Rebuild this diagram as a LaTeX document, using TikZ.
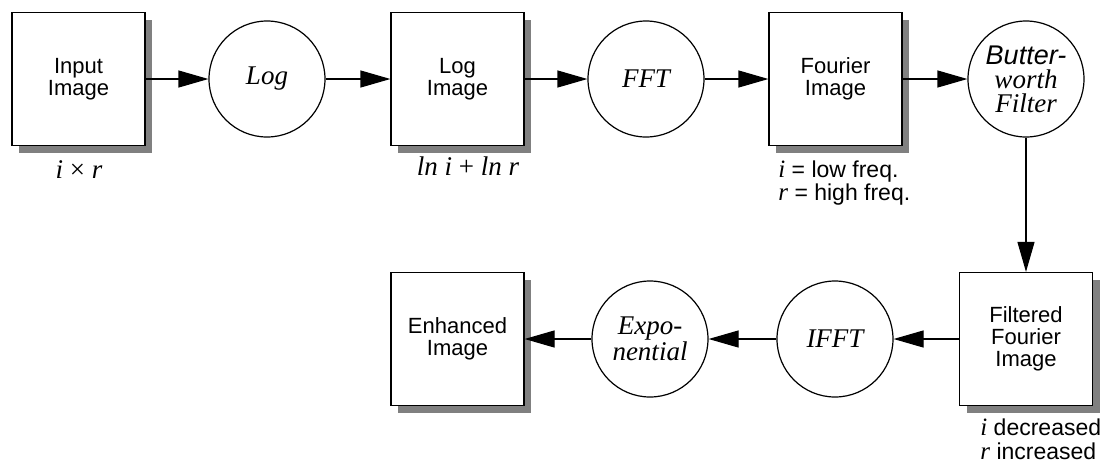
\documentclass[tikz,border=0pt]{standalone}
\usepackage{fontspec}
\setmainfont{Liberation Serif}
\setsansfont{Liberation Sans}
\usetikzlibrary{arrows.meta,shadows}

\newcommand{\itvar}[1]{{\rmfamily\itshape\fontsize{12.5}{10}\selectfont #1}}

\tikzset{
  imgbox/.style={draw, line width=0.6pt, fill=white, minimum size=66.5pt, inner sep=0pt,
    align=center, font=\sffamily\fontsize{11}{11}\selectfont,
    drop shadow={shadow xshift=3.5pt, shadow yshift=-3.5pt, fill=black!50, opacity=1}},
  opcircle/.style={draw, circle, line width=0.6pt, fill=white, minimum size=58pt, inner sep=0pt,
    align=center, font=\itshape\fontsize{13.5}{12}\selectfont},
  flow/.style={line width=0.6pt, -{Triangle[length=15pt,width=8.5pt]}},
  note/.style={inner sep=0pt, align=left, font=\sffamily\fontsize{11.5}{11.8}\selectfont},
  mathnote/.style={inner sep=0pt, font=\rmfamily\itshape\fontsize{13.5}{12}\selectfont}
}

\begin{document}
\begin{tikzpicture}[x=0.5pt,y=-0.5pt]
    \useasboundingbox (0,0) rectangle (1105,462);
    % top row
    \node[imgbox] (input) at (78.5,79) {Input\\Image};
    \node[opcircle] (log) at (267,79) {Log};
    \node[imgbox] (logimg) at (457.5,79) {Log\\Image};
    \node[opcircle] (fft) at (646,79) {FFT};
    \node[imgbox] (fourier) at (835.5,79) {Fourier\\Image};
    \node[opcircle] (bw) at (1026,79) {{\sffamily Butter-}\\worth\\Filter};
    % bottom row
    \node[imgbox] (filtered) at (1026,339) {Filtered\\Fourier\\Image};
    \node[opcircle] (ifft) at (835,339) {IFFT};
    \node[opcircle] (expo) at (650,339) {Expo-\\nential};
    \node[imgbox] (enhanced) at (457.5,339) {Enhanced\\Image};
    % flow
    \foreach \a/\b in {input/log,log/logimg,logimg/fft,fft/fourier,fourier/bw,bw/filtered,filtered/ifft,ifft/expo,expo/enhanced}
      \draw[flow] (\a) -- (\b);
    % notes
    \node[mathnote] (prod) at (79,170) {i {\upshape ×} r};
    \node[mathnote] (sum) at (468,166) {ln i {\upshape +} ln r};
    \node[note, anchor=west] (freq) at (778,183) {\itvar{i} = low freq.\\\itvar{r} = high freq.};
    \node[note, anchor=west] (change) at (980,439) {\itvar{i} decreased\\\itvar{r} increased};
  \end{tikzpicture}
\end{document}
